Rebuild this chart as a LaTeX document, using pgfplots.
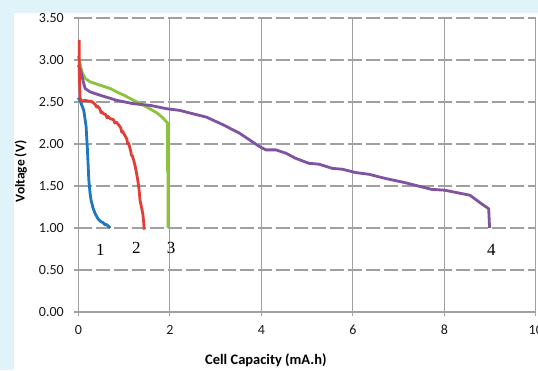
\documentclass[border=0pt]{standalone}
\usepackage{pgfplots}
\pgfplotsset{compat=1.18}
\usepackage{fontspec}
\setmainfont{Carlito}
\newfontfamily\serifnum{Liberation Serif}
\definecolor{bgblue}{RGB}{224,242,250}
\definecolor{gridgray}{RGB}{160,160,160}
\definecolor{cblue}{RGB}{31,119,190}
\definecolor{cred}{RGB}{226,62,56}
\definecolor{cgreen}{RGB}{140,194,62}
\definecolor{cpurple}{RGB}{128,82,162}
\begin{document}
\begin{tikzpicture}[x=1pt,y=1pt]
\useasboundingbox (0,0) rectangle (538,370);
\clip (0,0) rectangle (538,370);
\fill[bgblue] (0,0) rectangle (538,370);
\fill[white] (14,0) rectangle (538,357);
\begin{axis}[
  at={(78.3pt,58pt)}, anchor=south west,
  scale only axis, width=457.5pt, height=294pt,
  xmin=0, xmax=10, ymin=0, ymax=3.5,
  xtick={0,2,...,10}, ytick={0,0.5,...,3.5},
  axis x line*=bottom, axis y line*=left,
  axis line style={gridgray, line width=1.1pt, -},
  tick align=outside, major tick length=4pt,
  tick style={gridgray, line width=1.1pt},
  grid=major,
  x grid style={gridgray, line width=1.1pt},
  y grid style={gridgray, line width=1.1pt, dash pattern=on 14pt off 4pt},
  /pgf/number format/assume math mode=true,
  yticklabel style={/pgf/number format/fixed, /pgf/number format/fixed zerofill, /pgf/number format/precision=2, xshift=-7pt},
  ticklabel style={font=\fontsize{14}{14}\selectfont, text=black!90},
  xticklabel style={yshift=-5.5pt},
  xlabel={\textbf{Cell Capacity (mA.h)}},
  ylabel={\textbf{Voltage (V)}},
  xlabel style={font=\fontsize{14.5}{14.5}\selectfont, at={(axis description cs:0.41,-0.163)}, anchor=center},
  ylabel style={font=\fontsize{13.5}{13.5}\selectfont, at={(axis description cs:-0.1255,0.478)}, anchor=center},
  clip=false,
  every axis plot/.append style={line width=2.8pt, line join=round, mark=none},
]
\addplot[cblue] coordinates {
(0,2.55) (0.05,2.50) (0.12,2.40) (0.17,2.21) (0.20,1.93) (0.23,1.57) (0.26,1.40)
(0.28,1.33) (0.32,1.24) (0.37,1.17) (0.43,1.11) (0.48,1.08) (0.52,1.07) (0.55,1.06)
(0.58,1.04) (0.62,1.04) (0.66,1.02) (0.70,1.00)};
\addplot[cgreen] coordinates {
(0,3.05) (0.04,2.95) (0.08,2.86) (0.15,2.78) (0.26,2.74) (0.48,2.70) (0.70,2.66)
(0.84,2.62) (1.0,2.58) (1.21,2.52) (1.50,2.44) (1.72,2.37) (1.85,2.31) (1.95,2.25)
(1.95,1.70) (1.96,1.65) (1.96,1.0)};
\addplot[cpurple] coordinates {
(0,2.94) (0.05,2.88) (0.10,2.76) (0.15,2.66) (0.26,2.62) (0.48,2.58) (0.84,2.52)
(1.2,2.48) (1.57,2.46) (1.93,2.42) (2.22,2.40) (2.43,2.37) (2.80,2.32) (3.16,2.23)
(3.52,2.13) (3.74,2.05) (3.96,1.97) (4.10,1.93) (4.32,1.93) (4.54,1.89) (4.75,1.83)
(5.04,1.77) (5.26,1.76) (5.55,1.71) (5.77,1.70) (6.06,1.66) (6.35,1.64) (6.71,1.59)
(7.14,1.54) (7.43,1.50) (7.72,1.46) (8.01,1.45) (8.56,1.39) (8.81,1.29) (8.97,1.23)
(8.99,1.00)};
\addplot[cred] coordinates {
(0.02,3.24) (0.02,2.88) (0.03,2.70) (0.04,2.54) (0.08,2.51) (0.15,2.52) (0.22,2.51)
(0.28,2.51) (0.33,2.49) (0.37,2.47) (0.40,2.44) (0.42,2.45) (0.47,2.42) (0.50,2.37)
(0.52,2.38) (0.55,2.36) (0.60,2.35) (0.63,2.31) (0.65,2.33) (0.70,2.30) (0.77,2.29)
(0.80,2.25) (0.83,2.26) (0.88,2.23) (0.93,2.19) (0.95,2.14) (0.97,2.15) (1.02,2.10)
(1.06,2.06) (1.08,2.00) (1.10,2.01) (1.14,1.93) (1.16,1.87) (1.18,1.86) (1.21,1.81)
(1.25,1.72) (1.28,1.63) (1.30,1.57) (1.33,1.45) (1.35,1.33) (1.38,1.25) (1.41,1.17)
(1.43,1.07) (1.44,0.98)};
\node[font=\serifnum\fontsize{17}{17}\selectfont] at (axis cs:0.48,0.74) {1};
\node[font=\serifnum\fontsize{17}{17}\selectfont] at (axis cs:1.27,0.76) {2};
\node[font=\serifnum\fontsize{17}{17}\selectfont] at (axis cs:2.03,0.76) {3};
\node[font=\serifnum\fontsize{17}{17}\selectfont] at (axis cs:9.03,0.74) {4};
\end{axis}
\end{tikzpicture}
\end{document}
